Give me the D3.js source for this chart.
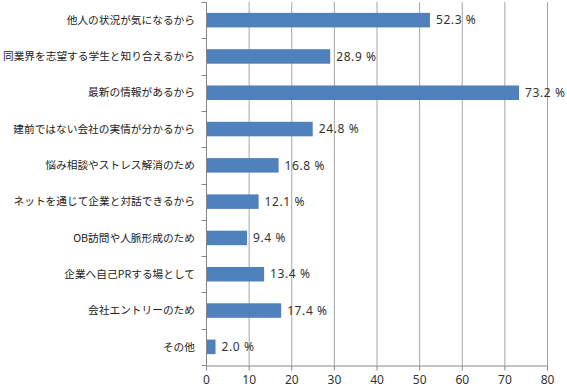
<!DOCTYPE html>
<html><head><meta charset="utf-8">
<script src="https://cdn.jsdelivr.net/npm/d3@7"></script>
<style>body{margin:0;background:#fff}svg{display:block}</style>
</head><body>
<svg id="c" width="567" height="392"></svg>
<script>
const categories = ["他人の状況が気になるから","同業界を志望する学生と知り合えるから","最新の情報があるから","建前ではない会社の実情が分かるから","悩み相談やストレス解消のため","ネットを通じて企業と対話できるから","OB訪問や人脈形成のため","企業へ自己PRする場として","会社エントリーのため","その他"];
const values = [52.3,28.9,73.2,24.8,16.8,12.1,9.4,13.4,17.4,2.0];
const xTicks = [0,10,20,30,40,50,60,70,80];

const svg = d3.select("#c");
const L = 206, R = 547, T = 2, B = 365;
const x = d3.scaleLinear().domain([0,80]).range([L,R]);
const y = d3.scaleBand().domain(categories).range([T,B]).paddingInner(0.6).paddingOuter(0.3);
const yb = d3.scaleBand().domain(categories).range([T,B]);
const numFont = "'Noto Sans','DejaVu Sans',sans-serif";

// grid
svg.append("g").selectAll("line").data(xTicks.slice(1)).join("line")
  .attr("x1",d=>x(d)+0.5).attr("x2",d=>x(d)+0.5).attr("y1",T).attr("y2",B)
  .attr("stroke","#a6a6a6").attr("stroke-width",1);

// bars
svg.append("g").selectAll("rect").data(values).join("rect")
  .attr("x",x(0)+1).attr("y",(d,i)=>y(categories[i]))
  .attr("width",d=>x(d)-x(0)).attr("height",y.bandwidth())
  .attr("fill","#4f81bd");

// value labels
svg.append("g").selectAll("text").data(values).join("text")
  .attr("x",d=>x(d)+7).attr("y",(d,i)=>y(categories[i])+y.bandwidth()/2)
  .attr("dy","0.35em").attr("font-family",numFont)
  .attr("font-size",12).attr("letter-spacing",0.6).attr("fill","#333")
  .text(d=>d.toFixed(1)+" %");

// x axis
const xa = svg.append("g").attr("transform",`translate(0,${B+0.5})`)
  .call(d3.axisBottom(x).tickValues(xTicks).tickSize(5).tickSizeOuter(0));
xa.select(".domain").attr("stroke","#868686");
xa.selectAll(".tick line").attr("stroke","#868686");
xa.selectAll("text").attr("font-family",numFont).attr("font-size",12).attr("fill","#333").attr("dy","0.9em");

// y axis
const ya = svg.append("g").attr("transform",`translate(${L+0.5},0)`);
ya.append("line").attr("x1",0).attr("x2",0).attr("y1",T).attr("y2",B).attr("stroke","#868686");
const bounds = categories.map(c=>yb(c)).concat([B]);
ya.selectAll("line.t").data(bounds).join("line").attr("class","t")
  .attr("x1",-5).attr("x2",0).attr("y1",d=>Math.round(d)+0.5).attr("y2",d=>Math.round(d)+0.5).attr("stroke","#868686");
svg.append("g").selectAll("text").data(categories).join("text")
  .attr("x",195).attr("y",d=>yb(d)+yb.bandwidth()/2).attr("dy","0.35em")
  .attr("text-anchor","end").attr("font-family","'Noto Sans CJK JP',sans-serif")
  .attr("font-size",10.7).attr("fill","#222").text(d=>d);
</script>
</body></html>
